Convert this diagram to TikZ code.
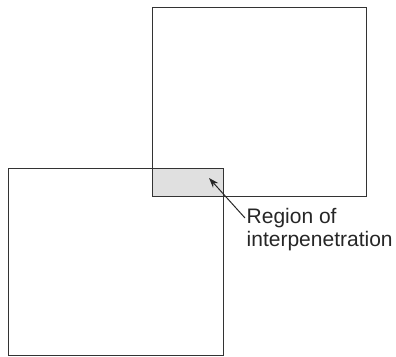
\documentclass[tikz,border=0pt]{standalone}
\usepackage{fontspec}
\setmainfont{Liberation Sans}
\usetikzlibrary{arrows.meta,backgrounds}

\begin{document}
\begin{tikzpicture}[x=1pt,y=-1pt,>={Stealth[length=10pt,width=7pt]},
  box/.style={draw=black!80,line width=0.9pt,inner sep=0pt,anchor=north west},
  note text/.style={font=\fontsize{21}{23.5}\selectfont,text=black!85,
    align=left,inner sep=0pt,anchor=north west}]
  \useasboundingbox (0,0) rectangle (396,356);

  \node[box,minimum width=214pt,minimum height=188.4pt] (upper) at (151.7,7.3) {};
  \node[box,minimum width=214.4pt,minimum height=187.3pt] (lower) at (8.3,167.7) {};

  % overlap of the two boxes
  \begin{scope}[on background layer]
    \fill[black!12] (upper.south west) rectangle (lower.north east);
  \end{scope}

  \node[note text] (note) at (246.5,208) {Region of\\interpenetration};
  \coordinate (tip) at (209,178);
  \coordinate (tail) at (245,218);
  \draw[black!85,line width=1pt,->] (tail) -- (tip);
\end{tikzpicture}
\end{document}
